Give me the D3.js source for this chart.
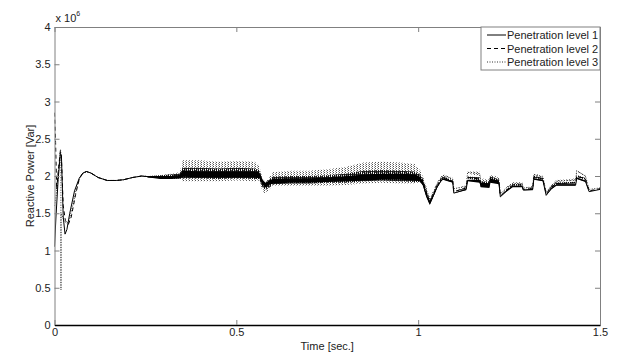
<!DOCTYPE html>
<html>
<head>
<meta charset="utf-8">
<script src="https://cdn.jsdelivr.net/npm/d3@7"></script>
<style>
  body { margin: 0; background: #fff; }
  text { font-family: "Liberation Sans", Arial, sans-serif; fill: #222; }
</style>
</head>
<body>
<div id="chart"></div>
<script>
// reactive power, units of 1e6 Var

const seriesNames = ["Penetration level 1", "Penetration level 2", "Penetration level 3"];
const xTicks = [0, 0.5, 1, 1.5];
const yTicks = [0, 0.5, 1, 1.5, 2, 2.5, 3, 3.5, 4];

// start-up transient, one time base per series
const tHead1 = [0, 0.004, 0.010, 0.016, 0.019, 0.024, 0.029, 0.034, 0.042, 0.055, 0.068, 0.078, 0.088, 0.10, 0.12, 0.145, 0.17, 0.19, 0.215];
const qHead1 = [1.05, 1.45, 1.95, 2.3, 2.28, 1.45, 1.22, 1.28, 1.5, 1.8, 1.97, 2.04, 2.06, 2.04, 1.98, 1.94, 1.94, 1.95, 1.98];
const tHead2 = [0, 0.003, 0.006, 0.010, 0.016, 0.019, 0.024, 0.030, 0.038, 0.046, 0.058, 0.068, 0.078, 0.088, 0.10, 0.12, 0.145, 0.17, 0.19, 0.215];
const qHead2 = [2.85, 2.45, 1.82, 2.05, 2.33, 2.25, 1.6, 1.4, 1.35, 1.45, 1.75, 1.96, 2.04, 2.06, 2.04, 1.98, 1.94, 1.94, 1.95, 1.98];
const tHead3 = [0, 0.005, 0.010, 0.0165, 0.0175, 0.0178, 0.0181, 0.026, 0.034, 0.040, 0.050, 0.060, 0.070, 0.080, 0.088, 0.10, 0.12, 0.145, 0.17, 0.19, 0.215];
const qHead3 = [1.6, 1.75, 2.0, 2.36, 2.3, 0.47, 1.5, 1.4, 1.36, 1.4, 1.6, 1.83, 1.98, 2.04, 2.06, 2.04, 1.98, 1.94, 1.94, 1.95, 1.98];

// noisy middle section: mean (q) and half-width of the ripple band (n)
const tBody  = [0.24, 0.26, 0.29, 0.32, 0.345, 0.352, 0.40, 0.45, 0.50, 0.55, 0.563, 0.572, 0.58, 0.59, 0.60, 0.65, 0.70, 0.75, 0.80, 0.85, 0.90, 0.95, 0.99, 1.005, 1.013];
const qBody1 = [2.0, 1.99, 1.98, 1.98, 1.99, 2.03, 2.02, 2.02, 2.02, 2.02, 2.01, 1.92, 1.88, 1.91, 1.93, 1.94, 1.94, 1.95, 1.96, 1.98, 1.99, 1.99, 1.98, 1.96, 1.9];
const nBody1 = [0, 0.01, 0.02, 0.02, 0.025, 0.04, 0.04, 0.04, 0.04, 0.04, 0.04, 0.03, 0.03, 0.03, 0.03, 0.03, 0.03, 0.03, 0.035, 0.04, 0.04, 0.04, 0.04, 0.03, 0.03];
const qBody2 = [2.0, 1.99, 1.99, 1.99, 2.0, 2.04, 2.04, 2.03, 2.04, 2.03, 2.02, 1.9, 1.86, 1.9, 1.94, 1.95, 1.95, 1.96, 1.97, 2.0, 2.01, 2.0, 1.99, 1.97, 1.92];
const nBody2 = [0, 0.01, 0.02, 0.03, 0.035, 0.07, 0.07, 0.07, 0.07, 0.07, 0.06, 0.05, 0.04, 0.05, 0.05, 0.05, 0.05, 0.05, 0.06, 0.07, 0.07, 0.07, 0.07, 0.05, 0.04];
const qBody3 = [2.0, 1.99, 1.99, 2.0, 2.01, 2.07, 2.07, 2.06, 2.07, 2.06, 2.04, 1.88, 1.84, 1.9, 1.96, 1.97, 1.97, 1.98, 2.0, 2.04, 2.05, 2.04, 2.03, 2.0, 1.95];
const nBody3 = [0, 0.01, 0.02, 0.03, 0.04, 0.14, 0.14, 0.13, 0.13, 0.13, 0.1, 0.08, 0.08, 0.08, 0.09, 0.1, 0.1, 0.11, 0.12, 0.14, 0.14, 0.14, 0.13, 0.08, 0.05];

// step section after t = 1 s
const tTail  = [1.022, 1.032, 1.042, 1.052, 1.062, 1.068, 1.095, 1.098, 1.132, 1.136, 1.169, 1.172, 1.196, 1.198, 1.222, 1.226, 1.243, 1.260, 1.286, 1.289, 1.315, 1.318, 1.343, 1.352, 1.366, 1.380, 1.433, 1.436, 1.460, 1.470, 1.5];
const qTail1 = [1.75, 1.63, 1.74, 1.85, 1.93, 1.96, 1.92, 1.77, 1.82, 1.94, 1.93, 1.88, 1.87, 1.94, 1.91, 1.72, 1.80, 1.86, 1.86, 1.81, 1.82, 1.96, 1.94, 1.74, 1.83, 1.88, 1.88, 1.97, 1.93, 1.79, 1.82];
const qTail2 = [1.78, 1.65, 1.75, 1.87, 1.95, 1.98, 1.93, 1.79, 1.84, 1.98, 1.96, 1.89, 1.89, 1.96, 1.93, 1.73, 1.81, 1.88, 1.88, 1.82, 1.83, 1.99, 1.96, 1.76, 1.85, 1.90, 1.91, 2.0, 1.96, 1.80, 1.83];
const qTail3 = [1.82, 1.68, 1.78, 1.9, 1.97, 2.01, 1.96, 1.83, 1.86, 2.05, 2.03, 1.92, 1.91, 1.98, 1.95, 1.76, 1.84, 1.9, 1.9, 1.84, 1.85, 2.02, 1.99, 1.78, 1.87, 1.93, 1.95, 2.07, 2.0, 1.82, 1.84];
const nTail  = [0.03, 0.02, 0.02, 0.01, 0.01, 0.01, 0.01, 0, 0.01, 0.01, 0.02, 0.03, 0.03, 0.03, 0.02, 0, 0.01, 0.01, 0.01, 0, 0.01, 0.01, 0.01, 0, 0.01, 0.01, 0.01, 0.01, 0.01, 0, 0];

const width = 629;
const height = 358;
const margin = { top: 27, right: 29, bottom: 33, left: 54.5 };

const svg = d3.select("#chart")
  .append("svg")
  .attr("width", width)
  .attr("height", height);

const x = d3.scaleLinear().domain([0, 1.5]).range([margin.left, width - margin.right]);
const y = d3.scaleLinear().domain([0, 4]).range([height - margin.bottom, margin.top]);

function build(tH, qH, qB, nB, qT, nScale) {
  const rows = tH.map((t, i) => ({ t, q: qH[i], n: 0 }));
  tBody.forEach((t, i) => rows.push({ t, q: qB[i], n: nB[i] }));
  tTail.forEach((t, i) => rows.push({ t, q: qT[i], n: nTail[i] * nScale }));
  return rows;
}

const data1 = build(tHead1, qHead1, qBody1, nBody1, qTail1, 1);
const data2 = build(tHead2, qHead2, qBody2, nBody2, qTail2, 1.2);
const data3 = build(tHead3, qHead3, qBody3, nBody3, qTail3, 1.5);

// texture fills for the ripple bands
const defs = svg.append("defs");
const speckle = defs.append("pattern")
  .attr("id", "speckle")
  .attr("width", 3).attr("height", 2)
  .attr("patternUnits", "userSpaceOnUse");
speckle.append("rect").attr("width", 1).attr("height", 1).attr("fill", "#555");
speckle.append("rect").attr("x", 2).attr("y", 1).attr("width", 1).attr("height", 1).attr("fill", "#999");

const stripes = defs.append("pattern")
  .attr("id", "stripes")
  .attr("width", 2).attr("height", 3)
  .attr("patternUnits", "userSpaceOnUse");
stripes.append("rect").attr("width", 1).attr("height", 3).attr("fill", "#111");
stripes.append("rect").attr("x", 1).attr("width", 1).attr("height", 1).attr("fill", "#333");

defs.append("clipPath").attr("id", "clip")
  .append("rect")
  .attr("x", margin.left).attr("y", margin.top)
  .attr("width", x(1.5) - x(0)).attr("height", y(0) - y(4));

const area = d3.area()
  .x(d => x(d.t))
  .y0(d => y(d.q - d.n))
  .y1(d => y(d.q + d.n));
const line = d3.line()
  .x(d => x(d.t))
  .y(d => y(d.q));

const plot = svg.append("g").attr("clip-path", "url(#clip)");

const styles = [
  { data: data3, fill: "url(#speckle)", dash: "1,1.5", stroke: "#333" },
  { data: data2, fill: "url(#stripes)", dash: "4,3", stroke: "#000" },
  { data: data1, fill: "#000", dash: null, stroke: "#000" }
];

styles.forEach(s => {
  plot.append("path")
    .datum(s.data)
    .attr("fill", s.fill)
    .attr("d", area);
  plot.append("path")
    .datum(s.data)
    .attr("fill", "none")
    .attr("stroke", s.stroke)
    .attr("stroke-width", 1)
    .attr("stroke-dasharray", s.dash)
    .attr("d", line);
});

// axes box
const axisColor = "#808080";
svg.append("g")
  .attr("transform", `translate(${margin.left},0)`)
  .call(d3.axisLeft(y).tickValues(yTicks).tickSizeInner(-5).tickSizeOuter(0).tickPadding(4)
    .tickFormat(d3.format("")))
  .call(g => g.select(".domain").attr("stroke", axisColor))
  .call(g => g.selectAll(".tick line").attr("stroke", axisColor))
  .call(g => g.selectAll("text").attr("font-size", 11).attr("fill", "#222")
    .attr("font-family", "Liberation Sans, Arial, sans-serif"));

svg.append("g")
  .attr("transform", `translate(${width - margin.right},0)`)
  .call(d3.axisRight(y).tickValues(yTicks).tickSizeInner(-5).tickSizeOuter(0).tickFormat(""))
  .call(g => g.select(".domain").attr("stroke", axisColor))
  .call(g => g.selectAll(".tick line").attr("stroke", axisColor));

svg.append("g")
  .attr("transform", `translate(0,${margin.top})`)
  .call(d3.axisTop(x).tickValues(xTicks).tickSizeInner(-5).tickSizeOuter(0).tickFormat(""))
  .call(g => g.select(".domain").attr("stroke", axisColor))
  .call(g => g.selectAll(".tick line").attr("stroke", axisColor));

svg.append("g")
  .attr("transform", `translate(0,${height - margin.bottom})`)
  .call(d3.axisBottom(x).tickValues(xTicks).tickSizeInner(-5).tickSizeOuter(0).tickPadding(3)
    .tickFormat(d3.format("")))
  .call(g => g.select(".domain").attr("stroke", "#000").attr("stroke-width", 1.5))
  .call(g => g.selectAll(".tick line").attr("stroke", axisColor))
  .call(g => g.selectAll("text").attr("font-size", 11).attr("fill", "#222")
    .attr("font-family", "Liberation Sans, Arial, sans-serif"));

// exponent label
const expo = svg.append("text")
  .attr("x", margin.left + 1)
  .attr("y", 22)
  .attr("font-size", 11);
expo.append("tspan").text("x 10");
expo.append("tspan").attr("dy", -6).attr("font-size", 7).text("6");

// axis titles
svg.append("text")
  .attr("x", (x(0) + x(1.5)) / 2)
  .attr("y", 350)
  .attr("text-anchor", "middle")
  .attr("font-size", 11)
  .text("Time [sec.]");

svg.append("text")
  .attr("transform", `translate(34,${y(2)}) rotate(-90)`)
  .attr("text-anchor", "middle")
  .attr("font-size", 11)
  .text("Reactive Power [Var]");

// legend
const legend = svg.append("g");
legend.append("rect")
  .attr("x", 481).attr("y", margin.top)
  .attr("width", width - margin.right - 481).attr("height", 43)
  .attr("fill", "#fff").attr("stroke", axisColor);

const legendDash = [null, "4,3", "1,1.5"];
seriesNames.forEach((name, i) => {
  const ly = 35 + i * 13.5;
  legend.append("line")
    .attr("x1", 487).attr("x2", 506)
    .attr("y1", ly).attr("y2", ly)
    .attr("stroke", i === 2 ? "#333" : "#000")
    .attr("stroke-dasharray", legendDash[i]);
  legend.append("text")
    .attr("x", 507).attr("y", ly + 4)
    .attr("font-size", 11)
    .text(name);
});
</script>
</body>
</html>
